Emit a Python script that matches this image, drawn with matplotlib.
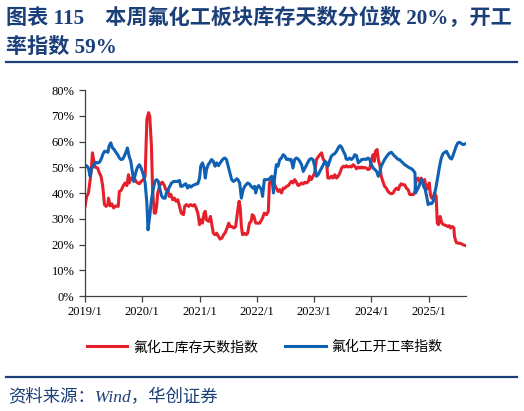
import numpy as np
import matplotlib.pyplot as plt
import matplotlib.ticker as mticker
from matplotlib.lines import Line2D

plt.rcParams['font.family'] = ['Liberation Serif', 'Noto Sans CJK SC']
plt.rcParams['axes.unicode_minus'] = False

# 氟化工库存天数指数 (decimal year, %)
inv_t = [2019.00, 2019.03, 2019.06, 2019.09, 2019.11, 2019.13, 2019.16, 2019.18, 2019.22, 2019.25,
         2019.28, 2019.31, 2019.34, 2019.37, 2019.40, 2019.41, 2019.44, 2019.47, 2019.50, 2019.54,
         2019.58, 2019.60, 2019.63, 2019.67, 2019.70, 2019.73, 2019.76, 2019.77, 2019.80, 2019.83,
         2019.86, 2019.89, 2019.92, 2019.95, 2019.98, 2020.02, 2020.05, 2020.08, 2020.11, 2020.13,
         2020.16, 2020.18, 2020.21, 2020.23, 2020.25, 2020.27, 2020.30, 2020.33, 2020.35, 2020.38,
         2020.41, 2020.45, 2020.47, 2020.50, 2020.53, 2020.56, 2020.59, 2020.62, 2020.65, 2020.68,
         2020.72, 2020.74, 2020.77, 2020.81, 2020.84, 2020.88, 2020.91, 2020.94, 2020.97, 2021.00,
         2021.02, 2021.05, 2021.08, 2021.10, 2021.12, 2021.16, 2021.19, 2021.22, 2021.24, 2021.27,
         2021.30, 2021.33, 2021.36, 2021.39, 2021.42, 2021.45, 2021.48, 2021.51, 2021.53, 2021.56,
         2021.60, 2021.63, 2021.66, 2021.69, 2021.71, 2021.73, 2021.75, 2021.78, 2021.81, 2021.84,
         2021.87, 2021.90, 2021.92, 2021.95, 2021.98,
         2022.05, 2022.10, 2022.13, 2022.17, 2022.20, 2022.22, 2022.24, 2022.27, 2022.31, 2022.34,
         2022.37, 2022.40, 2022.43, 2022.46, 2022.49, 2022.52, 2022.55, 2022.58, 2022.60, 2022.63,
         2022.66, 2022.69, 2022.72, 2022.75, 2022.78, 2022.81, 2022.84, 2022.87, 2022.90, 2022.92,
         2022.95, 2022.98, 2023.01, 2023.04, 2023.07, 2023.10, 2023.13, 2023.16, 2023.19, 2023.22,
         2023.24, 2023.27, 2023.30, 2023.33, 2023.36, 2023.39, 2023.42, 2023.45, 2023.48, 2023.51,
         2023.54, 2023.56, 2023.59, 2023.62, 2023.65, 2023.68, 2023.71, 2023.74, 2023.77, 2023.80,
         2023.83, 2023.85, 2023.88, 2023.91, 2023.94, 2023.97, 2024.00, 2024.03, 2024.05, 2024.07,
         2024.10, 2024.12, 2024.15, 2024.17, 2024.20, 2024.23, 2024.26, 2024.29, 2024.32, 2024.35,
         2024.38, 2024.41, 2024.44, 2024.47, 2024.49, 2024.52, 2024.55, 2024.58, 2024.61, 2024.64,
         2024.67, 2024.70, 2024.73, 2024.76, 2024.78, 2024.81, 2024.84, 2024.87, 2024.90, 2024.93,
         2024.96, 2024.99, 2025.01, 2025.03, 2025.05, 2025.08, 2025.10, 2025.13, 2025.15, 2025.17,
         2025.20, 2025.23, 2025.26, 2025.30, 2025.33, 2025.36, 2025.38, 2025.41, 2025.44, 2025.45,
         2025.48, 2025.51, 2025.54, 2025.57, 2025.60, 2025.64]
inv_v = [34.8, 38.7, 40.0, 45.0, 49.0, 55.6, 51.7, 50.0, 49.7, 47.8,
         46.5, 42.6, 35.5, 34.8, 35.5, 38.0, 35.0, 35.8, 34.2, 35.0,
         34.8, 40.6, 41.0, 42.9, 43.9, 42.9, 47.1, 43.9, 45.8, 45.2,
         45.8, 44.5, 43.9, 43.6, 44.5, 45.2, 46.5, 68.6, 71.2, 69.9,
         58.2, 41.3, 32.2, 32.2, 34.8, 40.0, 42.6, 43.9, 44.2, 43.2,
         41.3, 41.3, 38.7, 39.4, 37.4, 38.0, 36.8, 37.4, 34.8, 32.2,
         31.6, 34.8, 35.5, 34.8, 35.5, 35.0, 35.5, 34.2, 32.2, 27.7,
         29.6, 28.3, 32.2, 32.9, 29.6, 29.0, 30.9, 27.0, 24.4, 23.8,
         24.4, 23.1, 22.1, 22.5, 23.8, 24.7, 26.4, 28.3, 27.0, 27.0,
         26.4, 27.0, 32.2, 36.8, 34.2, 27.0, 23.8, 24.4, 23.8, 24.4,
         28.3, 29.0, 31.6, 30.9, 28.3,
         28.3, 30.3, 32.2, 31.6, 32.9, 43.9, 44.5, 44.2, 43.2, 41.9,
         40.6, 41.3, 40.0, 41.9, 41.9, 42.6, 42.9, 43.9, 44.5, 43.9,
         45.2, 44.2, 42.9, 43.2, 43.9, 43.5, 44.2, 43.9, 44.5, 46.5,
         45.2, 46.5, 47.8, 53.0, 54.0, 54.9, 55.6, 53.0, 52.3, 51.0,
         45.8, 45.8, 46.5, 45.8, 47.1, 45.8, 46.5, 47.8, 49.7, 50.4,
         50.1, 50.6, 50.1, 50.4, 50.1, 51.0, 50.4, 49.4, 50.1, 49.7,
         50.1, 49.7, 49.9, 49.7, 49.1, 49.4, 53.0, 54.9, 52.3, 56.2,
         56.9, 53.0, 50.4, 46.5, 44.5, 42.6, 41.9, 40.6, 40.0, 39.7,
         40.0, 41.3, 41.9, 41.3, 42.6, 43.6, 43.2, 43.2, 41.9, 41.3,
         39.4, 39.4, 39.4, 40.6, 45.2, 45.8, 44.5, 45.8, 43.9, 45.2,
         41.3, 42.6, 43.9, 39.4, 38.0, 38.0, 40.0, 38.7, 28.3, 27.7,
         30.9, 28.3, 27.7, 27.4, 27.0, 27.3, 26.4, 27.0, 26.4, 23.1,
         20.8, 20.5, 20.5, 20.3, 19.9, 19.6]

# 氟化工开工率指数 (decimal year, %)
run_t = [2019.00, 2019.03, 2019.06, 2019.09, 2019.11, 2019.13, 2019.16, 2019.19, 2019.22, 2019.25,
         2019.28, 2019.31, 2019.34, 2019.37, 2019.40, 2019.42, 2019.45, 2019.48, 2019.51, 2019.54,
         2019.57, 2019.60, 2019.63, 2019.66, 2019.69, 2019.72, 2019.74, 2019.77, 2019.80, 2019.83,
         2019.85, 2019.87, 2019.90, 2019.92, 2019.95, 2019.98, 2020.02, 2020.05, 2020.08, 2020.10,
         2020.13, 2020.16, 2020.19, 2020.22, 2020.25, 2020.28, 2020.31, 2020.34, 2020.37, 2020.40,
         2020.42, 2020.45, 2020.48, 2020.51, 2020.55, 2020.58, 2020.62, 2020.65, 2020.67, 2020.70,
         2020.73, 2020.76, 2020.79, 2020.82, 2020.85, 2020.88, 2020.91, 2020.94, 2020.97, 2021.00,
         2021.02, 2021.05, 2021.08, 2021.10, 2021.12, 2021.15, 2021.18, 2021.21, 2021.24, 2021.27,
         2021.30, 2021.33, 2021.36, 2021.38, 2021.41, 2021.44, 2021.47, 2021.50, 2021.53, 2021.56,
         2021.59, 2021.62, 2021.65, 2021.67, 2021.70, 2021.73, 2021.76, 2021.79, 2021.81, 2021.84,
         2021.87, 2021.90, 2021.93, 2021.96, 2021.98, 2022.00, 2022.03,
         2022.08, 2022.10, 2022.13, 2022.17, 2022.20, 2022.23, 2022.26, 2022.29, 2022.31, 2022.34,
         2022.37, 2022.40, 2022.43, 2022.46, 2022.49, 2022.52, 2022.55, 2022.58, 2022.60, 2022.63,
         2022.66, 2022.69, 2022.72, 2022.75, 2022.78, 2022.81, 2022.84, 2022.87, 2022.90, 2022.92,
         2022.95, 2022.98, 2023.01, 2023.04, 2023.07, 2023.10, 2023.13, 2023.16, 2023.19, 2023.22,
         2023.24, 2023.27, 2023.30, 2023.33, 2023.36, 2023.39, 2023.42, 2023.45, 2023.48, 2023.51,
         2023.54, 2023.56, 2023.59, 2023.62, 2023.65, 2023.68, 2023.71, 2023.74, 2023.77, 2023.80,
         2023.83, 2023.85, 2023.88, 2023.91, 2023.94, 2023.97, 2024.00, 2024.03, 2024.06, 2024.09,
         2024.12, 2024.15, 2024.17, 2024.20, 2024.23, 2024.26, 2024.29, 2024.32, 2024.35, 2024.38,
         2024.41, 2024.44, 2024.47, 2024.49, 2024.52, 2024.55, 2024.58, 2024.61, 2024.64, 2024.67,
         2024.70, 2024.73, 2024.76, 2024.77, 2024.80, 2024.83, 2024.85, 2024.88, 2024.91, 2024.94,
         2024.97, 2024.99, 2025.02, 2025.05, 2025.08, 2025.10, 2025.13, 2025.16, 2025.19, 2025.22,
         2025.25, 2025.28, 2025.31, 2025.34, 2025.37, 2025.40, 2025.42, 2025.45, 2025.48, 2025.51,
         2025.54, 2025.57, 2025.60, 2025.64]
run_v = [50.1, 50.6, 49.7, 46.5, 49.0, 50.1, 51.0, 51.9, 51.7, 51.9,
         53.0, 54.9, 56.2, 56.2, 55.8, 58.2, 59.5, 57.5, 56.9, 55.8,
         54.9, 53.6, 53.0, 53.2, 54.5, 56.2, 57.5, 54.3, 52.3, 47.8,
         44.5, 46.5, 49.0, 50.1, 51.0, 49.7, 47.1, 43.9, 36.1, 25.7,
         30.9, 37.4, 41.3, 44.5, 45.2, 44.5, 41.3, 38.7, 38.0, 38.0,
         40.0, 41.3, 42.6, 43.9, 44.5, 44.5, 44.5, 44.9, 42.6, 42.6,
         43.2, 43.6, 41.9, 42.9, 42.3, 42.9, 43.2, 43.5, 43.6, 45.8,
         50.4, 51.7, 49.7, 45.8, 49.0, 51.0, 51.9, 53.0, 52.3, 50.4,
         51.7, 50.6, 51.7, 52.3, 53.2, 53.6, 53.0, 50.4, 47.8, 45.2,
         44.5, 44.9, 45.5, 45.2, 43.9, 38.0, 41.3, 42.6, 43.2, 43.9,
         43.5, 42.6, 41.9, 42.6, 40.0, 41.9, 42.9,
         41.3, 38.7, 45.2, 45.2, 45.2, 45.8, 46.5, 40.0, 45.8, 51.0,
         50.4, 53.0, 53.6, 54.9, 54.3, 53.0, 53.2, 52.7, 53.0, 49.7,
         53.0, 53.6, 53.2, 52.3, 51.0, 48.4, 49.7, 51.0, 52.3, 53.0,
         53.4, 53.0, 50.4, 46.5, 47.1, 48.4, 49.7, 51.0, 52.3, 51.7,
         50.4, 52.3, 54.3, 54.9, 55.3, 56.2, 57.5, 58.4, 57.8, 56.2,
         54.9, 53.2, 53.0, 53.6, 53.0, 53.6, 54.9, 54.5, 51.7, 52.3,
         53.0, 53.0, 53.2, 53.0, 53.6, 53.0, 51.0, 49.7, 49.1, 48.4,
         46.5, 48.4, 50.4, 51.7, 53.0, 54.0, 54.9, 55.6, 55.8, 54.9,
         54.3, 53.6, 53.0, 53.0, 52.3, 51.7, 51.0, 50.6, 50.1, 49.7,
         49.4, 48.8, 47.8, 40.0, 41.3, 42.6, 43.9, 45.2, 42.6, 41.3,
         38.0, 35.5, 36.1, 35.8, 36.8, 39.4, 42.6, 46.5, 50.4, 53.6,
         55.3, 55.8, 56.2, 54.9, 53.6, 53.2, 54.3, 56.2, 58.2, 59.5,
         59.7, 59.2, 58.8, 59.1]

years = [2019, 2020, 2021, 2022, 2023, 2024, 2025]
year_labels = ['2019/1', '2020/1', '2021/1', '2022/1', '2023/1', '2024/1', '2025/1']

navy = '#1B3F78'
red = '#E5202B'
blue = '#0F62B3'

fig = plt.figure(figsize=(5.24, 4.11), dpi=100)
ax = fig.add_axes([0.1622, 0.2798, 0.727, 0.5012])

ax.plot(inv_t, np.array(inv_v) / 100, color=red, lw=2.2, solid_joinstyle='round')
ax.plot(run_t, np.array(run_v) / 100, color=blue, lw=2.2, solid_joinstyle='round')

ax.set_xlim(2019.0, 2025.65)
ax.set_ylim(0, 0.8)
ax.set_xticks(years)
ax.set_xticklabels(year_labels)
ax.set_yticks(np.arange(0, 0.81, 0.1))
ax.yaxis.set_major_formatter(mticker.PercentFormatter(1.0, decimals=0))
for s in ['top', 'right']:
    ax.spines[s].set_visible(False)
for s in ['left', 'bottom']:
    ax.spines[s].set_color('#404040')
    ax.spines[s].set_linewidth(0.9)
ax.tick_params(axis='both', direction='out', length=4, width=0.9, color='#404040',
               labelsize=9, labelcolor='black')

# title
fig.text(0.012, 0.942, '图表 115\u3000本周氟化工板块库存天数分位数 20%，开工',
         fontsize=15.2, fontweight='bold', color=navy, va='baseline')
fig.text(0.012, 0.872, '率指数 59%',
         fontsize=15.2, fontweight='bold', color=navy, va='baseline')
fig.add_artist(Line2D([0.012, 0.986], [0.848, 0.848], color=navy, lw=1.6))

# legend
handles = [Line2D([], [], color=red, lw=2.2), Line2D([], [], color=blue, lw=2.2)]
fig.legend(handles, ['氟化工库存天数指数', '氟化工开工率指数'], loc='center',
           bbox_to_anchor=(0.505, 0.155), ncol=2, frameon=False,
           prop={'family': ['Noto Sans CJK SC'], 'size': 10},
           handlelength=2.9, columnspacing=2.0, handletextpad=0.4)

# bottom rule and source
fig.add_artist(Line2D([0.012, 0.986], [0.083, 0.083], color=navy, lw=1.6))
fig.text(0.015, 0.022, '资料来源：Wind，华创证券', fontsize=12.5, style='italic',
         color=navy, va='baseline')

fig.savefig('out.png', dpi=100)
